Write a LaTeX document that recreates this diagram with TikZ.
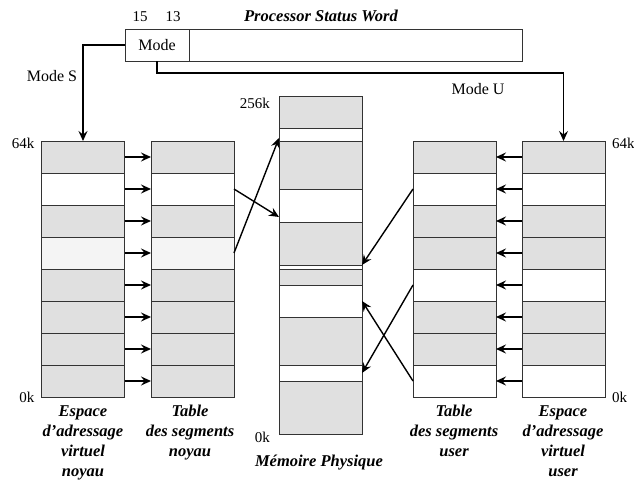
\documentclass[tikz,border=0pt]{standalone}
\usepackage{fontspec}
\setmainfont{Liberation Serif}
\usetikzlibrary{arrows.meta}
\definecolor{cellgrey}{HTML}{E0E0E0}
\definecolor{celllight}{HTML}{F4F4F4}
\definecolor{cellline}{HTML}{333333}
\tikzset{
  cell/.style={draw=cellline, line width=0.8pt, minimum width=83pt, minimum height=32pt, inner sep=0pt, outer sep=0pt},
  link/.style={line width=1.4pt, -{Stealth[length=10pt,width=9pt,inset=3.5pt]}},
  title/.style={font=\fontsize{16.5}{20}\selectfont\bfseries\itshape, align=center},
  addr/.style={font=\fontsize{15}{18}\selectfont, inner sep=0pt},
}
\begin{document}
\begin{tikzpicture}[x=1pt, y=-1pt, font=\fontsize{16}{20}\selectfont]
\useasboundingbox (0,0) rectangle (634,485);

% processor status word
\node[draw=cellline, line width=0.8pt, minimum width=397pt, minimum height=32pt, inner sep=0pt, anchor=north west] (psw) at (125,29) {};
\node[draw=cellline, line width=0.8pt, minimum width=64pt, minimum height=32pt, inner sep=0pt, outer sep=0pt, anchor=north west] (mode) at (125,29) {Mode};
\node[addr] (b15) at (140,17) {15};
\node[addr] (b13) at (173,17) {13};
\node[title] (pswlabel) at (321,16) {Processor Status Word};

% virtual spaces and tables
\foreach \c [count=\i] in {cellgrey,white,cellgrey,celllight,cellgrey,cellgrey,cellgrey,cellgrey}
  \node[cell, fill=\c] (ns\i) at (83,{157+32*(\i-1)}) {};
\foreach \c [count=\i] in {cellgrey,white,cellgrey,celllight,cellgrey,cellgrey,cellgrey,cellgrey}
  \node[cell, fill=\c] (nt\i) at (192.5,{157+32*(\i-1)}) {};
\foreach \c [count=\i] in {cellgrey,white,cellgrey,cellgrey,white,cellgrey,cellgrey,white}
  \node[cell, fill=\c] (ut\i) at (454.5,{157+32*(\i-1)}) {};
\foreach \c [count=\i] in {cellgrey,white,cellgrey,cellgrey,white,cellgrey,cellgrey,white}
  \node[cell, fill=\c] (us\i) at (563.5,{157+32*(\i-1)}) {};

% physical memory
\foreach \t/\b/\c [count=\i] in {96/128/cellgrey, 128/141/white, 141/189/cellgrey, 189/222/white,
    222/265/cellgrey, 265/269/white, 269/285/cellgrey, 285/317/white, 317/365/cellgrey,
    365/381/white, 381/434/cellgrey}
  \node[cell, fill=\c, minimum height={(\b-\t)*1pt}, anchor=north] (m\i) at (320.5,\t) {};

% address labels
\node[addr, anchor=east] (ns64) at (ns1.north west) [xshift=-7pt, yshift=-2pt] {64k};
\node[addr, anchor=east] (ns0) at (ns8.south west) [xshift=-7pt] {0k};
\node[addr, anchor=west] (us64) at (us1.north east) [xshift=7pt, yshift=-2pt] {64k};
\node[addr, anchor=west] (us0) at (us8.south east) [xshift=7pt] {0k};
\node[addr, anchor=east] (m256) at (m1.north west) [xshift=-9pt, yshift=-7pt] {256k};
\node[addr, anchor=east] (m0) at (m11.south west) [xshift=-9pt, yshift=-3pt] {0k};

% mode selection
\draw[link] (mode.west) -| (ns1.north);
\draw[link] (mode.south) -- ++(0,12) -| (us1.north);
\node (modes) at (52,76) {Mode S};
\node (modeu) at (478,89) {Mode U};

% translations
\foreach \i in {1,...,8} {
  \draw[link] (ns\i.east) -- (nt\i.west);
  \draw[link] (us\i.west) -- (ut\i.east);
}
\draw[link] (nt4.east) -- ([yshift=3pt]m2.south west);
\draw[link] (nt2.east) -- ([yshift=5pt]m4.south west);
\draw[link] (ut2.west) -- (m5.south east);
\draw[link] (ut5.west) -- (m10.east);
\draw[link] (ut8.west) -- (m8.east);

% captions
\node[title, anchor=north] (capns) at (83,402) {Espace\\d'adressage\\virtuel\\noyau};
\node[title, anchor=north] (capnt) at (190,402) {Table\\des segments\\noyau};
\node[title] (capm) at (319,463) {Mémoire Physique};
\node[title, anchor=north] (caput) at (454,402) {Table\\des segments\\user};
\node[title, anchor=north] (capus) at (563,402) {Espace\\d'adressage\\virtuel\\user};
\end{tikzpicture}
\end{document}
